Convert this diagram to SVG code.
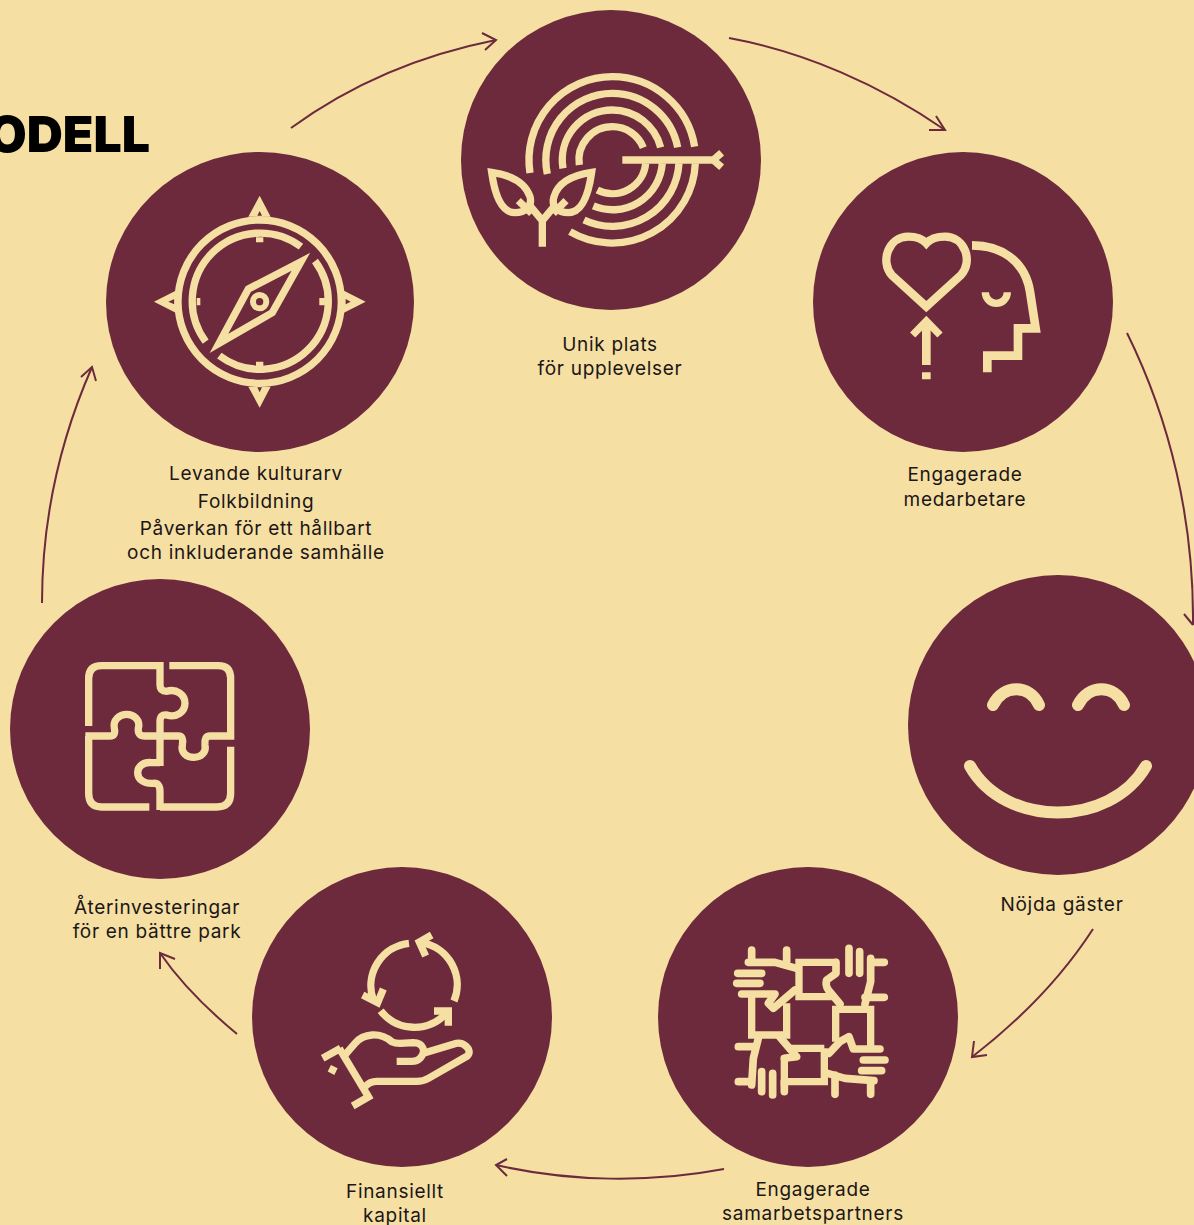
<svg xmlns="http://www.w3.org/2000/svg" width="1194" height="1225" viewBox="0 0 1194 1225">
<style>
.n{fill:#6c2a3c}
.i{fill:none;stroke:#f5dfa3;stroke-width:22;stroke-linejoin:miter;stroke-miterlimit:10}
.r{stroke-linecap:round;stroke-linejoin:round;stroke-width:23}
.f{fill:#f5dfa3;stroke:none}
.t{font-family:Inter,"Liberation Sans",sans-serif;font-size:19px;letter-spacing:.7px;fill:#1c1616;text-anchor:middle}
.c path{fill:none;stroke:#6c2a3c;stroke-width:2}
</style>
<rect width="1194" height="1225" fill="#f5dfa3"/>
<text x="150" y="151.5" text-anchor="end" font-family="Inter,'Liberation Sans',sans-serif" font-weight="900" font-size="50" fill="#000">ODELL</text>
<g id="connectors" class="c">
<path d="M291,128 C350,85 420,55 496,40"/><path d="M482,33 L496,40 L485,50"/>
<path d="M729,38 C805,52 880,85 945,130"/><path d="M936,116 L945,130 L929,130"/>
<path d="M1127,333 C1170,420 1194,520 1193,625"/><path d="M1184,614 L1193,625"/>
<path d="M1093,929 C1060,980 1020,1020 972,1057"/><path d="M974,1041 L972,1057 L987,1055"/>
<path d="M724,1169 C650,1183 570,1182 496,1165"/><path d="M507,1159 L496,1165 L507,1176"/>
<path d="M237,1034 C208,1010 182,985 160,953"/><path d="M160,969 L160,953 L175,959"/>
<path d="M42,603 C42,520 60,440 92,367"/><path d="M81,377 L92,367 L96,381"/>
</g>
<g id="node-plats">
<circle class="n" cx="611" cy="160" r="150"/>
<g transform="translate(460,50) scale(.3333)">
<path class="i" d="M210,369 A250,250 0 0 1 457,80 A250,250 0 0 1 704,290M262,372 A200,200 0 0 1 457,130 A200,200 0 0 1 653,292M309,355 A150,150 0 0 1 457,180 A150,150 0 0 1 602,292M358,345 A100,100 0 0 1 457,230 A100,100 0 0 1 550,293"/>
<path class="i" d="M706,340 A250,250 0 0 1 330,545M657,340 A200,200 0 0 1 372,510M607,340 A150,150 0 0 1 400,468M557,340 A100,100 0 0 1 412,420"/>
<path class="i" d="M487,330 H770M785,308 L760,330 L785,352"/>
<path class="i" d="M95,367 C150,375 195,395 210,440 C218,470 195,488 165,488 C125,488 105,440 95,367Z"/>
<path class="i" d="M395,367 C340,375 295,395 282,440 C272,470 295,488 325,488 C365,488 385,440 395,367Z"/>
<path class="i" d="M247,590 V512 L212,470M247,512 L282,470M175,452 L215,490M318,452 L280,490"/>
</g>
</g>
<g id="node-medarbetare">
<circle class="n" cx="963" cy="302" r="150"/>
<g transform="translate(860,210) scale(.3333)">
<path class="i" style="stroke-width:25" d="M199,290 L95,195 C60,155 85,80 145,80 C170,80 190,90 199,100 C208,90 228,80 255,80 C315,80 340,155 303,195 Z"/>
<path class="i" d="M158,375 L199,333 L240,375"/>
<path class="i" style="stroke-width:26" d="M199,340 V465M199,487 V508"/>
<path class="i" style="stroke-width:26" d="M336,106 C420,106 495,150 510,245 L527,355 H474 V437 H382 V487"/>
<path class="i" d="M376,247 A33,33 0 0 0 442,247"/>
</g>
</g>
<g id="node-gaster">
<circle class="n" cx="1058" cy="725" r="150"/>
<path class="i r" style="stroke-width:12" d="M993,705 C1003,684 1030,684 1039,705M1078,705 C1088,684 1115,684 1124,705"/>
<path class="i r" style="stroke-width:12" d="M970,766 C1005,828 1110,828 1146,766"/>
</g>
<g id="node-partners">
<circle class="n" cx="808" cy="1017" r="150"/>
<g transform="translate(725,935) scale(.3333)">
<path class="i" d="M335,82 H222 V185 H320M332,320 V223 H437 V342M298,340 H187M298,340 V440 H178 V370M80,170 V300 H185 V205"/>
<path class="i r" d="M372,40 V115M404,50 V115M333,82 V115 L305,135 Q300,150 310,165 L345,207M437,70 V140 L420,207M437,82 H478M420,187 H478"/>
<path class="i r" d="M437,342 H465M415,375 H480M410,407 H470M437,342 H385 L372,305 L345,320 L312,355M308,415 L360,430 L447,437M330,420 V478M437,437 V478"/>
<path class="i r" d="M110,410 V470M143,415 V480M178,440 V470M178,370 L215,365 L165,307M100,310 L85,370 L80,450M40,335 H85M40,440 H80"/>
<path class="i r" d="M38,115 H110M35,145 H105M50,177 H150 L130,205 L145,220 L210,165M70,82 H150 L215,100M80,45 V80M185,45 V85"/>
</g>
</g>
<g id="node-kapital">
<circle class="n" cx="402" cy="1017" r="150"/>
<g transform="translate(310,920) scale(.3333)">
<path class="i" d="M297,70 A128,128 0 0 0 190,240M432,243 A128,128 0 0 0 335,68M212,272 A128,128 0 0 0 410,278"/>
<path class="i" d="M158,225 L203,248 L220,207M365,45 L328,66 L347,108M372,273 H415 V317"/>
<path class="i" d="M88,385 L175,530M38,415 L92,385M128,558 L185,525M58,445 L78,455"/>
<path class="i" d="M105,405 L135,370 C160,340 210,335 245,365 Q255,370 270,370 L310,368 C340,368 350,395 330,415 Q322,424 305,424 L260,424M340,400 L432,372 C460,362 490,390 472,408 L355,475 Q340,484 320,484 L200,484 Q180,484 165,500"/>
</g>
</g>
<g id="node-pussel">
<circle class="n" cx="160" cy="729" r="150"/>
<g transform="translate(70,650) scale(.3333)">
<path class="i" d="M56,228 V85 Q56,47 95,47 H270 V105 Q270,124 290,124 C320,115 345,135 345,160 C345,185 320,205 290,195 Q270,192 270,215 V348"/>
<path class="i" d="M270,338 H245 C220,335 203,350 203,368 C203,390 225,402 250,400 Q270,398 270,425 V480"/>
<path class="i" d="M46,258 H120 Q138,258 133,235 C128,210 148,193 170,193 C192,193 212,210 205,235 Q202,258 225,258 H325 Q342,258 337,285 C332,308 350,322 372,322 C392,322 410,308 405,285 Q402,258 420,258 H482 V85 Q482,47 445,47 H298"/>
<path class="i" d="M56,258 V430 Q56,471 95,471 H238M270,471 H440 Q482,471 482,430 V290"/>
</g>
</g>
<g id="node-kulturarv">
<ellipse class="n" cx="260" cy="302" rx="154" ry="150"/>
<g transform="translate(140,180) scale(.3333)">
<circle class="i" cx="359" cy="365" r="245"/>
<path class="i" d="M483,200 A204,204 0 0 0 197,485M238,527 A204,204 0 0 0 525,243"/>
<path class="f" d="M348,172 h22 v15 h-22zM348,545 h22 v15 h-22zM170,354 h11 v22 h-11zM538,354 h17 v22 h-17z"/>
<path class="i" d="M483,245 L325,327 L237,490 L397,398 Z"/>
<circle class="i" cx="359" cy="365" r="20" style="stroke-width:18"/>
<path class="f" fill-rule="evenodd" d="M359,47 L325,110 H392 Z M352,107 H366 L359,93 Z M42,365 L107,332 V398 Z M103,357 L85,365 L103,373 Z M677,365 L612,332 V398 Z M617,357 L632,365 L617,373 Z M359,683 L325,620 H392 Z M352,622 H366 L359,637 Z"/>
</g>
</g>
<g id="labels">
<text class="t" x="610" y="351">Unik plats</text><text class="t" x="610" y="375">för upplevelser</text>
<text class="t" x="965" y="481">Engagerade</text><text class="t" x="965" y="506">medarbetare</text>
<text class="t" x="1062" y="911">Nöjda gäster</text>
<text class="t" x="813" y="1196">Engagerade</text><text class="t" x="813" y="1220">samarbetspartners</text>
<text class="t" x="395" y="1198">Finansiellt</text><text class="t" x="395" y="1222">kapital</text>
<text class="t" x="157" y="914">Återinvesteringar</text><text class="t" x="157" y="938">för en bättre park</text>
<text class="t" x="256" y="480">Levande kulturarv</text><text class="t" x="256" y="508">Folkbildning</text><text class="t" x="256" y="535">Påverkan för ett hållbart</text><text class="t" x="256" y="559">och inkluderande samhälle</text>
</g>
</svg>
